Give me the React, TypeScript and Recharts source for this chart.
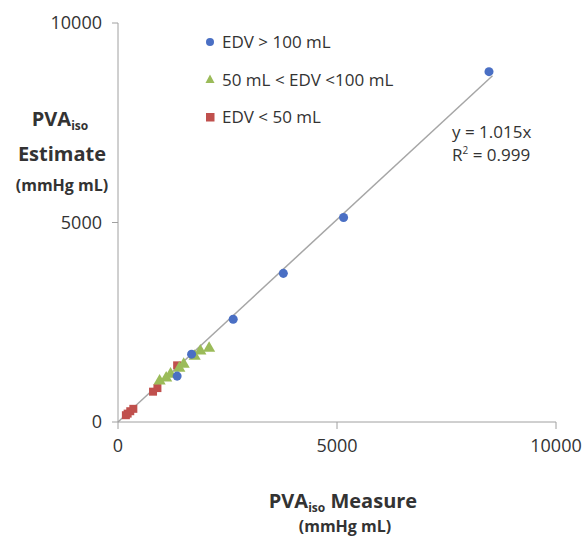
import {
  ScatterChart,
  Scatter,
  XAxis,
  YAxis,
  ZAxis,
  ReferenceLine,
  Label,
} from 'recharts';

// EDV > 100 mL
const bigX = [8470, 5150, 3775, 2630, 1680, 1350];
const bigY = [8780, 5125, 3725, 2575, 1700, 1150];
// 50 mL < EDV < 100 mL
const midX = [2080, 1880, 1750, 1500, 1400, 1200, 950, 1100];
const midY = [1850, 1780, 1650, 1450, 1350, 1200, 1030, 1100];
// EDV < 50 mL
const smallX = [1350, 900, 800, 350, 280, 220, 180];
const smallY = [1420, 850, 760, 330, 270, 210, 170];

const fitX = [0, 8550];
const slope = 1.015;

const ticks = [0, 5000, 10000];

const toPts = (xs: number[], ys: number[]) => xs.map((x, i) => ({ x, y: ys[i] }));

const BLUE = '#4a6fc4';
const GREEN = '#9bbb59';
const RED = '#c0504d';
const FONT = '"Open Sans", "Liberation Sans", sans-serif';
const TEXT = '#333';

const legendItems = [
  { label: 'EDV > 100 mL', color: BLUE, shape: 'circle' },
  { label: '50 mL < EDV <100 mL', color: GREEN, shape: 'triangle' },
  { label: 'EDV < 50 mL', color: RED, shape: 'square' },
];

const LegendBox = () => (
  <div
    style={{
      position: 'absolute',
      left: 204,
      top: 23,
      fontFamily: FONT,
      fontSize: 17,
      color: TEXT,
    }}
  >
    {legendItems.map((it) => (
      <div key={it.label} style={{ display: 'flex', alignItems: 'center', height: 37.5 }}>
        <svg width={12} height={12} style={{ marginRight: 6 }}>
          {it.shape === 'circle' && <circle cx={6} cy={6} r={4} fill={it.color} />}
          {it.shape === 'triangle' && <polygon points="6,1.5 10.5,10 1.5,10" fill={it.color} />}
          {it.shape === 'square' && <rect x={2} y={2} width={8.5} height={8.5} fill={it.color} />}
        </svg>
        <span>{it.label}</span>
      </div>
    ))}
  </div>
);

const YTitle = () => (
  <text fontFamily={FONT} fontWeight="bold" fill={TEXT} textAnchor="middle">
    <tspan x={60} y={126} fontSize={20}>
      PVA
      <tspan fontSize={12} dy={4}>iso</tspan>
    </tspan>
    <tspan x={62} y={161} fontSize={20}>Estimate</tspan>
    <tspan x={62} y={191} fontSize={16}>(mmHg mL)</tspan>
  </text>
);

const XTitle = () => (
  <text fontFamily={FONT} fontWeight="bold" fill={TEXT} textAnchor="middle">
    <tspan x={343} y={508} fontSize={20}>
      PVA
      <tspan fontSize={12} dy={4}>iso</tspan>
      <tspan dy={-4}> Measure</tspan>
    </tspan>
    <tspan x={345} y={532} fontSize={16}>(mmHg mL)</tspan>
  </text>
);

export default function App() {
  return (
    <div style={{ position: 'absolute', left: 0, top: 0, width: 582, height: 538, background: '#fff' }}>
      <ScatterChart
        width={582}
        height={538}
        margin={{ top: 23, right: 26, bottom: 86, left: 58 }}
      >
        <XAxis
          type="number"
          dataKey="x"
          domain={[0, 10000]}
          ticks={ticks}
          stroke="#a0a0a0"
          tickSize={7}
          tickMargin={10}
          tick={{ fill: TEXT, fontSize: 18, fontFamily: FONT }}
          height={30}
        >
          <Label content={<XTitle />} />
        </XAxis>
        <YAxis
          type="number"
          dataKey="y"
          domain={[0, 10000]}
          ticks={ticks}
          stroke="#a0a0a0"
          tickSize={6}
          tickMargin={10}
          tick={{ fill: TEXT, fontSize: 18, fontFamily: FONT }}
          width={60}
        >
          <Label content={<YTitle />} />
        </YAxis>
        <ZAxis range={[150, 150]} />
        <ReferenceLine
          segment={[
            { x: fitX[0], y: fitX[0] * slope },
            { x: fitX[1], y: fitX[1] * slope },
          ]}
          stroke="#a6a6a6"
          strokeWidth={1.5}
          ifOverflow="visible"
        />
        <Scatter data={toPts(smallX, smallY)} fill={RED} shape="square" isAnimationActive={false} />
        <Scatter data={toPts(midX, midY)} fill={GREEN} shape="triangle" isAnimationActive={false} />
        <Scatter data={toPts(bigX, bigY)} fill={BLUE} shape="circle" isAnimationActive={false} />
      </ScatterChart>
      <LegendBox />
      <div
        style={{
          position: 'absolute',
          left: 452,
          top: 120,
          fontFamily: FONT,
          fontSize: 17,
          color: TEXT,
          lineHeight: '23px',
        }}
      >
        <div>y = 1.015x</div>
        <div>
          R<sup style={{ fontSize: 10, verticalAlign: 'top', lineHeight: '14px' }}>2</sup> = 0.999
        </div>
      </div>
    </div>
  );
}
